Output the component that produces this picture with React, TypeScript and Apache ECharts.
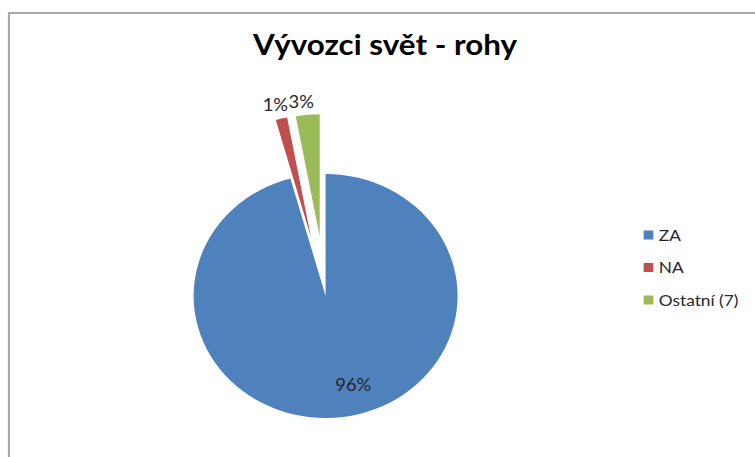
import { useEffect, useRef } from 'react';
import * as echarts from 'echarts';

const categories = ['ZA', 'NA', 'Ostatní (7)'];
const values = [95.7, 1.4, 2.9];
const colors = ['#4F81BD', '#C0504D', '#9BBB59'];
const exploded = [false, true, true];
const titleText = 'Vývozci svět - rohy';

const STRETCH = 1.0817;

export default function App() {
  const ref = useRef<HTMLDivElement>(null);
  useEffect(() => {
    const chart = echarts.init(ref.current!, null, { renderer: 'svg' });
    chart.setOption({
      animation: false,
      title: {
        text: titleText,
        left: 356,
        top: 29,
        padding: 0,
        textAlign: 'center',
        textStyle: { fontFamily: 'Lato', fontWeight: 'bold', fontSize: 29, color: '#000' },
      },
      legend: {
        orient: 'vertical',
        left: 595,
        top: 227,
        padding: 0,
        itemWidth: 9,
        itemHeight: 9,
        itemGap: 16.5,
        icon: 'rect',
        selectedMode: false,
        textStyle: { fontFamily: 'Lato', fontSize: 16, lineHeight: 16, color: '#262626' },
        data: categories,
      },
      graphic: [
        {
          type: 'polyline',
          silent: true,
          shape: { points: [[8.3, 470], [8.3, 13], [720, 13]] },
          style: { stroke: '#a6a6a6', lineWidth: 2, fill: 'none' },
        },
      ],
      series: [
        {
          type: 'pie',
          center: [301, 296],
          radius: 122,
          startAngle: 90,
          clockwise: true,
          selectedMode: 'multiple',
          selectedOffset: 60,
          avoidLabelOverlap: false,
          emphasis: { disabled: true },
          itemStyle: { borderWidth: 0 },
          label: {
            show: true,
            position: 'outside',
            formatter: (p: any) => Math.round(p.percent) + '%',
            fontFamily: 'Lato',
            fontSize: 17,
            color: '#262626',
          },
          labelLine: { show: false, length: 13, length2: 0 },
          labelLayout: (p: any) =>
            p.dataIndex === 0 ? { dx: 17, dy: 25 } : p.dataIndex === 1 ? { dx: 14, dy: -1 } : { dx: 12, dy: 0 },
          data: categories.map((name, i) => ({
            name,
            value: values[i],
            selected: exploded[i],
            itemStyle: { color: colors[i] },
            select: { itemStyle: { color: colors[i], borderWidth: 0 } },
            label: i === 0 ? { position: 'inside' } : {},
          })),
        },
      ],
    });
    return () => chart.dispose();
  }, []);
  return (
    <div
      ref={ref}
      style={{
        position: 'absolute',
        left: 0,
        top: 0,
        width: 698,
        height: 457,
        transform: `scaleX(${STRETCH})`,
        transformOrigin: '0 0',
      }}
    />
  );
}
